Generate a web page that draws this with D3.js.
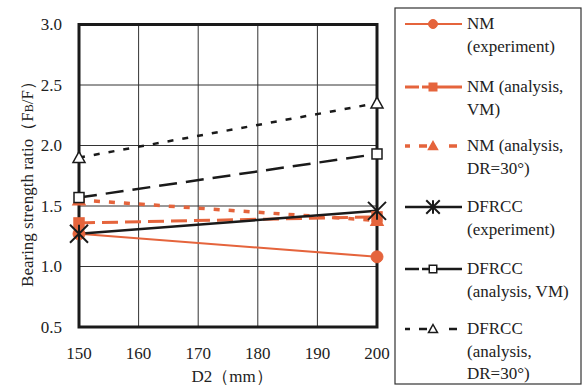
<!DOCTYPE html>
<html>
<head>
<meta charset="utf-8">
<script src="https://cdn.jsdelivr.net/npm/d3@7"></script>
<style>
  body { margin: 0; background: #fff; }
</style>
</head>
<body>
<div id="chart"></div>
<script>
// data
const d2 = [150, 200];
const xTicks = [150, 160, 170, 180, 190, 200];
const yTicks = [0.5, 1.0, 1.5, 2.0, 2.5, 3.0];
const nmExp = [1.27, 1.08];
const nmVM = [1.36, 1.41];
const nmDR = [1.55, 1.38];
const dfExp = [1.27, 1.46];
const dfVM = [1.57, 1.93];
const dfDR = [1.90, 2.35];

const orange = "#e5643c";
const series = [
  { name: ["NM", "(experiment)"], values: nmExp, color: orange, width: 2, dash: null, marker: "circle", fill: orange },
  { name: ["NM (analysis,", "VM)"], values: nmVM, color: orange, width: 3, dash: "16,7", marker: "square", fill: orange },
  { name: ["NM (analysis,", "DR=30°)"], values: nmDR, color: orange, width: 3.5, dash: "6,9", marker: "triangle", fill: orange },
  { name: ["DFRCC", "(experiment)"], values: dfExp, color: "#1a1a1a", width: 2.5, dash: null, marker: "asterisk", fill: "none" },
  { name: ["DFRCC", "(analysis, VM)"], values: dfVM, color: "#1a1a1a", width: 2.5, dash: "18,9", marker: "square", fill: "#fff" },
  { name: ["DFRCC", "(analysis,", "DR=30°)"], values: dfDR, color: "#1a1a1a", width: 2.5, dash: "6,9", marker: "triangle", fill: "#fff" }
];

const W = 586, H = 386;
const margin = { top: 24.5, left: 79 };
const width = 298, height = 302.5;

const svg = d3.select("#chart").append("svg")
  .attr("width", W).attr("height", H)
  .attr("font-family", "'Liberation Serif', 'DejaVu Serif', 'Times New Roman', serif")
  .attr("fill", "#222");

const g = svg.append("g").attr("transform", `translate(${margin.left},${margin.top})`);

const x = d3.scaleLinear().domain([150, 200]).range([0, width]);
const y = d3.scaleLinear().domain([0.5, 3.0]).range([height, 0]);

// grid
g.selectAll(".vgrid").data(xTicks.slice(1, -1)).enter().append("line")
  .attr("x1", d => x(d)).attr("x2", d => x(d))
  .attr("y1", 0).attr("y2", height)
  .attr("stroke", "#333").attr("stroke-width", 1);
g.selectAll(".hgrid").data(yTicks.slice(1, -1)).enter().append("line")
  .attr("x1", 0).attr("x2", width)
  .attr("y1", d => y(d)).attr("y2", d => y(d))
  .attr("stroke", "#333").attr("stroke-width", 1);

// frame
g.append("rect").attr("width", width).attr("height", height)
  .attr("fill", "none").attr("stroke", "#1a1a1a").attr("stroke-width", 3);

// tick labels
g.selectAll(".xt").data(xTicks).enter().append("text")
  .attr("x", d => x(d)).attr("y", height + 32)
  .attr("text-anchor", "middle").attr("font-size", 17)
  .text(d => d);
g.selectAll(".yt").data(yTicks).enter().append("text")
  .attr("x", -17).attr("y", d => y(d)).attr("dy", "0.35em")
  .attr("text-anchor", "end").attr("font-size", 17)
  .text(d => d3.format(".1f")(d));

// axis titles
svg.append("text")
  .attr("x", 232).attr("y", 382)
  .attr("text-anchor", "middle").attr("font-size", 17)
  .text("D2（mm）");
const yt = svg.append("text")
  .attr("transform", "translate(33,180) rotate(-90)")
  .attr("text-anchor", "middle").attr("font-size", 17);
yt.append("tspan").text("Bearing strength ratio（F");
yt.append("tspan").attr("font-size", 12).text("B");
yt.append("tspan").text("/F）");

// marker drawing
function drawMarker(sel, s, cx, cy, k) {
  k = k || 1;
  if (s.marker === "circle") {
    sel.append("circle").attr("cx", cx).attr("cy", cy).attr("r", 6 * k)
      .attr("fill", s.fill).attr("stroke", s.color).attr("stroke-width", 1);
  } else if (s.marker === "square") {
    const r = 5 * k;
    sel.append("rect").attr("x", cx - r).attr("y", cy - r).attr("width", 2 * r).attr("height", 2 * r)
      .attr("fill", s.fill).attr("stroke", s.color).attr("stroke-width", 1.5);
  } else if (s.marker === "triangle") {
    const r = 6 * k;
    sel.append("path")
      .attr("d", `M${cx},${cy - r}L${cx + r},${cy + r * 0.8}L${cx - r},${cy + r * 0.8}Z`)
      .attr("fill", s.fill).attr("stroke", s.color).attr("stroke-width", 1.5);
  } else if (s.marker === "asterisk") {
    const r = 9 * k;
    sel.append("path")
      .attr("d", `M${cx - r},${cy - r}L${cx + r},${cy + r}M${cx - r},${cy + r}L${cx + r},${cy - r}M${cx},${cy - r}L${cx},${cy + r}`)
      .attr("stroke", s.color).attr("stroke-width", 2).attr("fill", "none");
  }
}

// lines
const line = d3.line().x(d => x(d[0])).y(d => y(d[1]));
series.forEach(s => {
  const pts = d2.map((d, i) => [d, s.values[i]]);
  g.append("path").datum(pts)
    .attr("fill", "none").attr("stroke", s.color)
    .attr("stroke-width", s.width)
    .attr("stroke-dasharray", s.dash)
    .attr("d", line);
});
series.forEach(s => {
  const mg = g.append("g");
  d2.forEach((d, i) => drawMarker(mg, s, x(d), y(s.values[i])));
});

// legend
const legend = svg.append("g");
legend.append("rect").attr("x", 395).attr("y", 8).attr("width", 186).attr("height", 376)
  .attr("fill", "#fff").attr("stroke", "#333").attr("stroke-width", 1.2);
const rowY = [23, 86, 145, 206, 268, 328];
series.forEach((s, i) => {
  const cy = rowY[i] + 1;
  legend.append("line").attr("x1", 405).attr("x2", 462).attr("y1", cy).attr("y2", cy)
    .attr("stroke", s.color).attr("stroke-width", s.width)
    .attr("stroke-dasharray", s.dash ? (s.dash === "6,9" ? "5,9,8,22,8,9,5" : "14,3,40") : null);
  drawMarker(legend, s, 433, cy, 0.75);
  s.name.forEach((t, j) => {
    legend.append("text").attr("x", 467).attr("y", rowY[i] + 6 + j * 22.5)
      .attr("font-size", 17).text(t);
  });
});
</script>
</body>
</html>
